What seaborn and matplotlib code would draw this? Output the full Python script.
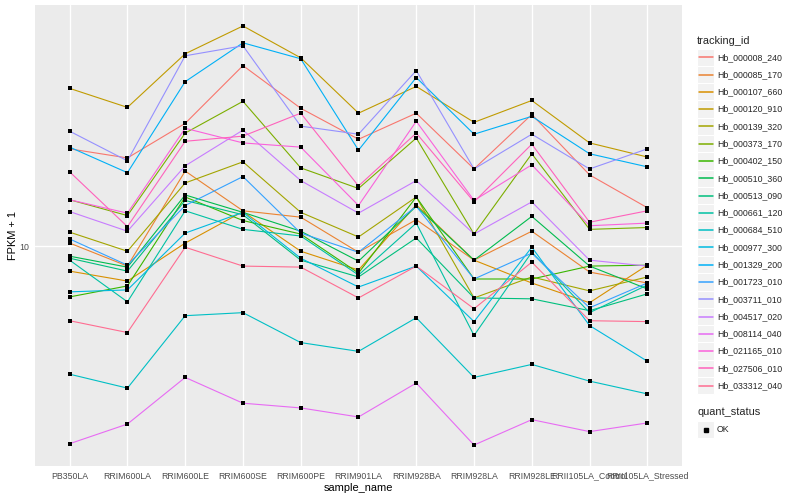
import numpy as np
import pandas as pd
import matplotlib
matplotlib.use("Agg")
import matplotlib.pyplot as plt
import seaborn as sns
from matplotlib.patches import Rectangle
from matplotlib.lines import Line2D
from matplotlib.ticker import NullLocator

# ---------------- data ----------------
samples = ["PB350LA", "RRIM600LA", "RRIM600LE", "RRIM600SE", "RRIM600PE", "RRIM901LA",
           "RRIM928BA", "RRIM928LA", "RRIM928LE", "RRII105LA_Control", "RRII105LA_Stressed"]

tracking_ids = ["Hb_000008_240", "Hb_000085_170", "Hb_000107_660", "Hb_000120_910",
                "Hb_000139_320", "Hb_000373_170", "Hb_000402_150", "Hb_000510_360",
                "Hb_000513_090", "Hb_000661_120", "Hb_000684_510", "Hb_000977_300",
                "Hb_001329_200", "Hb_001723_010", "Hb_003711_010", "Hb_004517_020",
                "Hb_008114_040", "Hb_021165_010", "Hb_027506_010", "Hb_033312_040"]

fpkm_000008_240 = [24.7, 22.7, 31.3, 53.5, 36.0, 27.0, 34.4, 20.5, 34.0, 19.4, 14.3]
fpkm_000085_170 = [10.3, 8.32, 20.1, 13.9, 13.1, 9.46, 12.8, 8.79, 11.5, 7.87, 7.11]
fpkm_000107_660 = [7.94, 7.24, 10.3, 13.8, 9.55, 8.02, 14.7, 8.79, 7.11, 5.92, 8.39]
fpkm_000120_910 = [43.3, 36.3, 59.7, 77.3, 57.5, 34.4, 44.1, 31.6, 38.7, 26.1, 22.9]
fpkm_000139_320 = [11.4, 9.55, 18.0, 21.9, 13.7, 10.9, 15.8, 6.19, 7.52, 6.61, 7.52]
fpkm_000373_170 = [15.4, 13.3, 28.6, 38.4, 20.7, 17.1, 27.3, 11.2, 23.6, 11.7, 11.9]
fpkm_000402_150 = [6.25, 6.92, 15.8, 12.7, 11.2, 7.80, 15.8, 7.38, 7.38, 8.32, 8.39]
fpkm_000510_360 = [9.12, 8.24, 16.1, 13.7, 11.5, 8.71, 14.5, 8.79, 13.2, 8.32, 6.73]
fpkm_000513_090 = [8.95, 7.94, 15.3, 13.4, 8.79, 7.52, 10.8, 6.19, 6.14, 5.50, 6.43]
fpkm_000661_120 = [8.79, 5.97, 13.9, 11.7, 11.0, 7.66, 12.4, 4.37, 9.46, 5.40, 6.98]
fpkm_000684_510 = [3.05, 2.68, 5.25, 5.40, 4.09, 3.77, 5.15, 2.96, 3.34, 2.86, 2.54]
fpkm_000977_300 = [6.55, 6.67, 11.3, 13.7, 8.95, 6.85, 8.32, 4.97, 9.91, 4.79, 3.44]
fpkm_001329_200 = [25.1, 19.8, 46.1, 66.1, 57.0, 24.4, 47.9, 28.3, 33.4, 23.6, 20.9]
fpkm_001723_010 = [10.7, 8.39, 14.6, 19.1, 11.3, 9.46, 14.5, 7.38, 9.38, 5.65, 7.11]
fpkm_003711_010 = [29.1, 22.1, 58.6, 64.3, 30.5, 28.3, 51.1, 20.5, 28.3, 20.5, 24.7]
fpkm_004517_020 = [13.8, 11.5, 21.1, 29.4, 18.4, 13.6, 18.4, 11.2, 15.1, 8.79, 8.32]
fpkm_008114_040 = [1.60, 1.92, 2.96, 2.33, 2.23, 2.05, 2.81, 1.58, 2.00, 1.79, 1.94]
fpkm_021165_010 = [15.4, 13.6, 29.9, 26.1, 25.1, 14.6, 31.9, 15.3, 21.3, 12.1, 12.4]
fpkm_027506_010 = [19.95, 12.0, 26.5, 27.8, 34.4, 17.5, 28.6, 15.1, 25.8, 12.5, 13.9]
fpkm_033312_040 = [5.01, 4.49, 9.91, 8.32, 8.24, 6.19, 8.32, 5.60, 8.63, 5.01, 4.97]

series = [fpkm_000008_240, fpkm_000085_170, fpkm_000107_660, fpkm_000120_910,
          fpkm_000139_320, fpkm_000373_170, fpkm_000402_150, fpkm_000510_360,
          fpkm_000513_090, fpkm_000661_120, fpkm_000684_510, fpkm_000977_300,
          fpkm_001329_200, fpkm_001723_010, fpkm_003711_010, fpkm_004517_020,
          fpkm_008114_040, fpkm_021165_010, fpkm_027506_010, fpkm_033312_040]

quant_status = ["OK"]

palette = ["#F8766D", "#EA8331", "#D89000", "#C09B00", "#A3A500", "#7CAE00", "#39B600",
           "#00BB4E", "#00BF7D", "#00C1A3", "#00BFC4", "#00BAE0", "#00B0F6", "#35A2FF",
           "#9590FF", "#C77CFF", "#E76BF3", "#FA62DB", "#FF62BC", "#FF6C91"]

rows = []
for tid, vals in zip(tracking_ids, series):
    for s, v in zip(samples, vals):
        rows.append({"tracking_id": tid, "sample_name": s, "fpkm": v, "quant_status": "OK"})
df = pd.DataFrame(rows)

# ---------------- style ----------------
sns.set_style("darkgrid", {"axes.facecolor": "#EBEBEB", "grid.color": "white"})
plt.rcParams["font.family"] = ["Liberation Sans", "DejaVu Sans"]

W, H = 800, 500
fig = plt.figure(figsize=(8, 5), dpi=100)
fig.patch.set_facecolor("white")
ax = fig.add_axes([35 / W, 1 - 466 / H, (682 - 35) / W, (466 - 5) / H])

sns.lineplot(data=df, x="sample_name", y="fpkm", hue="tracking_id",
             hue_order=tracking_ids, palette=palette, estimator=None, sort=False,
             units="tracking_id", legend=False, linewidth=0.8, ax=ax)
sns.scatterplot(data=df, x="sample_name", y="fpkm", color="black", marker="s",
                s=5, linewidth=0, legend=False, ax=ax, zorder=5)

ax.set_yscale("log")
ax.yaxis.set_minor_locator(NullLocator())
ax.set_yticks([10])
ax.set_yticklabels(["10"])
ax.margins(y=0.05)
ax.set_xlim(-0.6, len(samples) - 0.4)

ax.grid(True, color="white", linewidth=1.0)
ax.set_axisbelow(True)
for sp in ax.spines.values():
    sp.set_visible(False)
ax.tick_params(axis="both", which="major", length=2.5, width=0.7, color="#333333",
               labelcolor="#4D4D4D", labelsize=6.3, pad=1.5)
ax.set_xlabel("sample_name", fontsize=7.9, color="black", labelpad=2)
ax.set_ylabel("FPKM + 1", fontsize=7.9, color="black", labelpad=1)

# ---------------- legend (ggplot-like) ----------------
def fx(px):
    return px / W

def fy(py):
    return 1 - py / H

fig.text(fx(697), fy(40.7), "tracking_id", fontsize=7.9, va="center", ha="left")
key = 17.28
y0 = 57.3
for i, (tid, col) in enumerate(zip(tracking_ids, palette)):
    yc = y0 + i * key
    fig.add_artist(Rectangle((fx(697), fy(yc + key / 2)), key / W, key / H,
                             transform=fig.transFigure, facecolor="#F2F2F2",
                             edgecolor="white", linewidth=0.8, zorder=1))
    fig.add_artist(Line2D([fx(698.5), fx(712.5)], [fy(yc), fy(yc)],
                          transform=fig.transFigure, color=col, linewidth=1.1,
                          zorder=3))
    fig.text(fx(717), fy(yc), tid, fontsize=6.3, va="center", ha="left")

fig.text(fx(697), fy(412), "quant_status", fontsize=7.9, va="center", ha="left")
yc = 429.5
fig.add_artist(Rectangle((fx(697), fy(yc + key / 2)), key / W, key / H,
                         transform=fig.transFigure, facecolor="#F2F2F2",
                         edgecolor="white", linewidth=0.8, zorder=1))
fig.add_artist(Line2D([fx(705.6)], [fy(yc)], transform=fig.transFigure, marker="s",
                      markersize=2.3, color="black", linestyle="none", zorder=3))
fig.text(fx(717), fy(yc), quant_status[0], fontsize=6.3, va="center", ha="left")

fig.savefig("out.png", dpi=100)
